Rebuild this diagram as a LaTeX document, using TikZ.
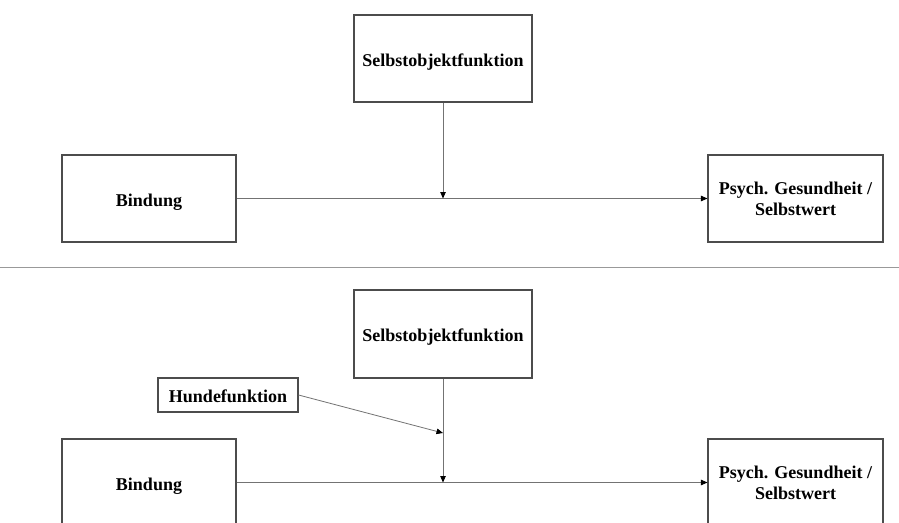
\documentclass[tikz,border=0pt]{standalone}
\usepackage{fontspec}
\setmainfont{Liberation Serif}
\usetikzlibrary{arrows.meta}
% invisible strut that lowers a single-line label inside its box
\newcommand{\lowstrut}[1]{\rule{0pt}{#1}}
\tikzset{
  box/.style={draw=black!70, line width=1.1pt, fill=white, inner sep=0pt,
    align=center, font=\bfseries\fontsize{18}{21}\selectfont},
  bigbox/.style={box, minimum width=175pt, minimum height=87pt},
  smallbox/.style={box, minimum width=140pt, minimum height=34pt},
  link/.style={draw=black!55, line width=0.8pt},
  arr/.style={link, -{Triangle[length=6.5pt,width=5.5pt,fill=black,color=black]}},
  divider/.style={draw=black!40, line width=1pt}
}
\begin{document}
\begin{tikzpicture}[x=1pt,y=-1pt]
  \fill[white] (0,0) rectangle (899,522);
  \useasboundingbox (0,0) rectangle (899,522);
  \clip (0,0) rectangle (899,522);

  % upper model: moderation by self-object function
  \node[bigbox, minimum width=178pt] (selfA) at (443,58.5) {\lowstrut{19pt}Selbstobjektfunktion};
  \node[bigbox, minimum width=174pt] (bindA) at (149,198.5) {\lowstrut{20pt}Bindung};
  \node[bigbox] (psyA) at (795.5,198.5) {Psych. Gesundheit /\\Selbstwert};
  \coordinate (modA) at (443,198.5);
  \draw[arr] (bindA.east) -- (psyA.west);
  \draw[arr] (selfA.south) -- (modA);

  % separator
  \draw[divider] (0,267) -- (899,267);

  % lower model: additional dog function
  \node[bigbox, minimum width=178pt, minimum height=88pt] (selfB) at (443,334) {\lowstrut{19pt}Selbstobjektfunktion};
  \node[smallbox] (dog) at (228,395) {\lowstrut{15pt}Hundefunktion};
  \node[bigbox, minimum width=174pt] (bindB) at (149,482.5) {\lowstrut{20pt}Bindung};
  \node[bigbox] (psyB) at (795.5,482.5) {Psych. Gesundheit /\\Selbstwert};
  \coordinate (modB) at (443,482.5);
  \coordinate (dogT) at (443,433);
  \draw[arr] (bindB.east) -- (psyB.west);
  \draw[arr] (selfB.south) -- (modB);
  \draw[arr] (dog.east) -- (dogT);
\end{tikzpicture}
\end{document}
